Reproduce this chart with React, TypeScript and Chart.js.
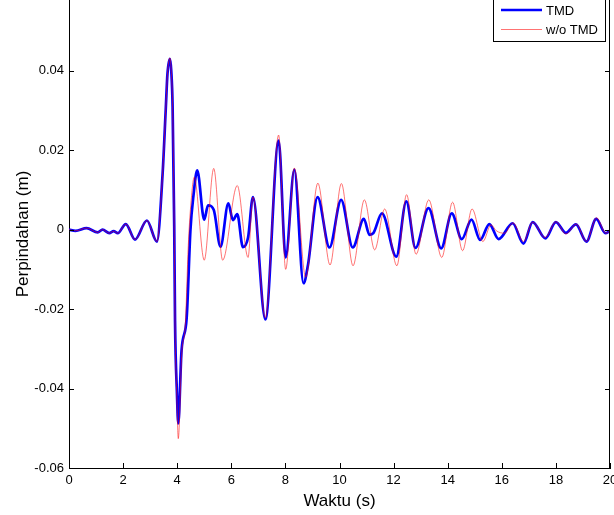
import React, { useEffect, useRef } from "react";
import { Chart, registerables } from "chart.js";

Chart.register(...registerables);

const xTicks = [0, 2, 4, 6, 8, 10, 12, 14, 16, 18, 20];
const yTicks = [-0.06, -0.04, -0.02, 0, 0.02, 0.04];

const seriesNames = ["TMD", "w/o TMD"];

const tmdTime = [0, 0.24, 0.65, 1.06, 1.24, 1.49, 1.65, 1.8, 2.1, 2.44, 2.88, 3.25, 3.46, 3.58, 3.64, 3.73, 3.78, 3.83, 3.89, 3.92, 3.99, 4.04, 4.16, 4.35, 4.49, 4.6, 4.74, 5.0, 5.14, 5.35, 5.6, 5.89, 6.06, 6.22, 6.43, 6.62, 6.8, 7.26, 7.75, 8.01, 8.33, 8.67, 8.83, 9.19, 9.63, 10.06, 10.49, 10.9, 11.11, 11.25, 11.57, 12.1, 12.47, 12.81, 13.29, 13.76, 14.15, 14.52, 14.88, 15.2, 15.54, 15.88, 16.4, 16.8, 17.14, 17.61, 18.0, 18.37, 18.74, 19.13, 19.49, 19.83, 20];
const tmdValue = [0, -0.0003, 0.0004, -0.0007, 0, -0.0009, -0.0004, -0.0009, 0.0014, -0.0025, 0.0023, -0.003, 0.014, 0.0308, 0.0392, 0.043, 0.04, 0.031, 0.001, -0.023, -0.041, -0.0488, -0.0305, -0.0222, 0, 0.0085, 0.0149, 0.0025, 0.0061, 0.005, -0.0043, 0.0066, 0.0024, 0.0039, -0.0044, -0.002, 0.0082, -0.0226, 0.0224, -0.007, 0.0151, -0.0135, -0.0091, 0.0082, -0.0045, 0.0075, -0.0045, 0.0027, -0.0013, -0.0009, 0.0041, -0.0068, 0.0071, -0.0046, 0.0054, -0.0047, 0.0041, -0.0024, 0.0025, -0.0026, 0.0014, -0.0024, 0.0016, -0.0035, 0.0019, -0.0022, 0.0019, -0.0008, 0.0013, -0.003, 0.0027, -0.0009, -0.0003];

const woTime = [0, 0.24, 0.65, 1.06, 1.24, 1.49, 1.65, 1.8, 2.1, 2.44, 2.88, 3.25, 3.46, 3.58, 3.64, 3.73, 3.78, 3.83, 3.89, 3.92, 3.99, 4.04, 4.17, 4.3, 4.41, 4.5, 4.63, 5.0, 5.35, 5.68, 6.22, 6.62, 6.8, 7.26, 7.75, 8.01, 8.33, 8.75, 9.2, 9.65, 10.07, 10.5, 10.92, 11.3, 11.67, 12.12, 12.48, 12.83, 13.3, 13.78, 14.18, 14.55, 14.9, 15.3, 15.6, 15.8, 16.1, 16.42, 16.8, 17.14, 17.6, 18.0, 18.37, 18.75, 19.13, 19.5, 19.85, 20];
const woValue = [0, -0.0003, 0.0004, -0.0007, 0, -0.0009, -0.0004, -0.0009, 0.0014, -0.0025, 0.0023, -0.003, 0.014, 0.0308, 0.0392, 0.0432, 0.04, 0.031, 0, -0.024, -0.043, -0.0526, -0.031, -0.024, -0.004, 0.006, 0.0132, -0.0077, 0.0154, -0.0077, 0.0111, -0.007, 0.0082, -0.0222, 0.0238, -0.01, 0.0155, -0.012, 0.0117, -0.0089, 0.0116, -0.0091, 0.0075, -0.0051, 0.0052, -0.0091, 0.0088, -0.0062, 0.0075, -0.007, 0.0069, -0.0053, 0.0052, -0.003, 0.0012, -0.0003, -0.0009, 0.0017, -0.003, 0.0019, -0.002, 0.002, -0.0011, 0.0014, -0.003, 0.003, -0.0009, -0.0003];

const FONT = "'Liberation Sans', Arial, Helvetica, sans-serif";
const BLUE = "#0000ff";
const RED = "rgba(255,0,0,0.55)";

const framePlugin = {
  id: "frameTicksLegend",
  afterDraw(chart: any) {
    const { ctx, chartArea, scales } = chart;
    const { left, right, top, bottom } = chartArea;
    const xs = scales.x;
    const ys = scales.y;
    ctx.save();
    ctx.strokeStyle = "#000";
    ctx.lineWidth = 1;
    ctx.beginPath();
    const rx = Math.round(right) - 0.5;
    ctx.moveTo(rx, top);
    ctx.lineTo(rx, bottom);
    xTicks.forEach((t) => {
      const px = Math.round(xs.getPixelForValue(t)) + 0.5;
      ctx.moveTo(px, bottom);
      ctx.lineTo(px, bottom - 5);
    });
    yTicks.forEach((v) => {
      const py = Math.round(ys.getPixelForValue(v)) + 0.5;
      ctx.moveTo(left, py);
      ctx.lineTo(left + 5, py);
      ctx.moveTo(right, py);
      ctx.lineTo(right - 5, py);
    });
    ctx.stroke();

    // legend box (partly above the canvas top, as in the reference)
    const bx = 493.5, by = -10, bw = 112, bh = 51.5;
    ctx.fillStyle = "#fff";
    ctx.fillRect(bx, by, bw, bh);
    ctx.strokeStyle = "#000";
    ctx.lineWidth = 1;
    ctx.strokeRect(bx, by, bw, bh);
    const ds = chart.data.datasets;
    const rows = [10, 29.5];
    ctx.font = `13px ${FONT}`;
    ctx.textBaseline = "middle";
    ctx.textAlign = "left";
    rows.forEach((ry, i) => {
      ctx.beginPath();
      ctx.strokeStyle = ds[i].borderColor;
      ctx.lineWidth = ds[i].borderWidth;
      ctx.moveTo(501, ry);
      ctx.lineTo(542, ry);
      ctx.stroke();
      ctx.fillStyle = "#000";
      ctx.fillText(seriesNames[i], 546, ry + 1);
    });
    ctx.restore();
  },
};

export default function App() {
  const ref = useRef<HTMLCanvasElement | null>(null);
  useEffect(() => {
    if (!ref.current) return;
    const chart = new Chart(ref.current, {
      type: "line",
      data: {
        datasets: [
          {
            label: seriesNames[0],
            data: tmdTime.map((t, i) => ({ x: t, y: tmdValue[i] })),
            borderColor: BLUE,
            borderWidth: 2.7,
            pointRadius: 0,
            cubicInterpolationMode: "monotone",
            fill: false,
            order: 2,
          },
          {
            label: seriesNames[1],
            data: woTime.map((t, i) => ({ x: t, y: woValue[i] })),
            borderColor: RED,
            borderWidth: 1,
            pointRadius: 0,
            cubicInterpolationMode: "monotone",
            fill: false,
            order: 1,
          },
        ],
      },
      options: {
        animation: false,
        responsive: false,
        events: [],
        layout: { padding: { left: 0, top: 0, right: 4, bottom: 0 } },
        plugins: { legend: { display: false }, tooltip: { enabled: false } },
        scales: {
          x: {
            type: "linear",
            min: 0,
            max: 20,
            grid: { display: false, drawTicks: false },
            border: { display: true, color: "#000", width: 1 },
            afterBuildTicks: (s: any) => {
              s.ticks = xTicks.map((v) => ({ value: v }));
            },
            afterFit: (s: any) => {
              s.height = 47;
              s.paddingLeft = 0;
              s.paddingRight = 0;
            },
            ticks: {
              autoSkip: false,
              maxRotation: 0,
              padding: 5,
              color: "#000",
              font: { family: FONT, size: 13 },
              callback: (v: any) => String(v),
            },
            title: {
              display: true,
              text: "Waktu (s)",
              color: "#000",
              font: { family: FONT, size: 17 },
              padding: { top: 0, bottom: 3 },
            },
          },
          y: {
            type: "linear",
            min: -0.06,
            max: 0.0578,
            grid: { display: false, drawTicks: false },
            border: { display: true, color: "#000", width: 1 },
            afterBuildTicks: (s: any) => {
              s.ticks = yTicks.map((v) => ({ value: v }));
            },
            afterFit: (s: any) => {
              s.width = 69;
              s.paddingTop = 0;
              s.paddingBottom = 0;
            },
            ticks: {
              autoSkip: false,
              padding: 5,
              color: "#000",
              font: { family: FONT, size: 13 },
              callback: (v: any) => (Math.abs(v) < 1e-9 ? "0" : Number(v).toFixed(2)),
            },
            title: {
              display: true,
              text: "Perpindahan (m)",
              color: "#000",
              font: { family: FONT, size: 17 },
              padding: { top: 13, bottom: 0 },
            },
          },
        },
      },
      plugins: [framePlugin],
    });
    return () => chart.destroy();
  }, []);
  return (
    <div style={{ position: "absolute", left: 0, top: 0, width: 614, height: 515, background: "#fff" }}>
      <canvas ref={ref} width={614} height={515} style={{ display: "block" }} />
    </div>
  );
}
